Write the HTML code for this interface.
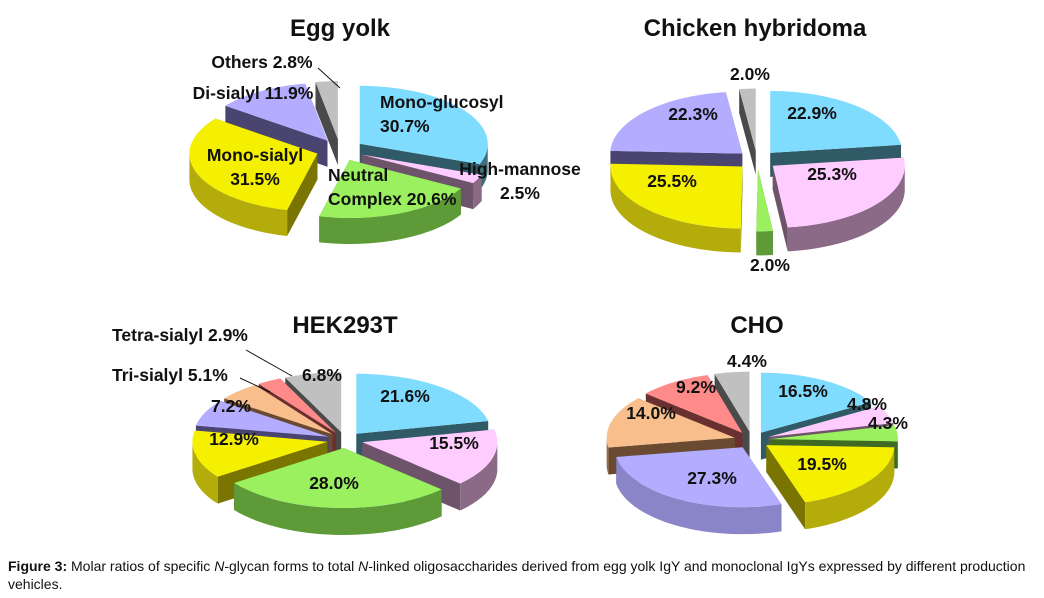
<!DOCTYPE html>
<html><head><meta charset="utf-8">
<style>
body{margin:0;background:#fff;width:1044px;height:598px;overflow:hidden;font-family:"Liberation Sans",Arial,sans-serif;}
svg{position:absolute;left:0;top:0}
.cap{position:absolute;left:8px;top:557px;width:1032px;font-size:14px;line-height:18px;color:#111}
</style></head>
<body>
<svg id="chart" width="1044" height="556" viewBox="0 0 1044 556"></svg>
<div class="cap"><b>Figure 3:</b> Molar ratios of specific <i>N</i>-glycan forms to total <i>N</i>-linked oligosaccharides derived from egg yolk IgY and monoclonal IgYs expressed by different production vehicles.</div>
<script>
// ---- data ----
const eggValues = [30.7, 2.5, 20.6, 31.5, 11.9, 2.8];
const eggColors = ['cyan','pink','green','yellow','lavender','gray'];
const eggLabels = [['Mono-glucosyl','30.7%'],['High-mannose','2.5%'],['Neutral','Complex 20.6%'],['Mono-sialyl','31.5%'],['Di-sialyl 11.9%'],['Others 2.8%']];
const chickValues = [22.9, 25.3, 2.0, 25.5, 22.3, 2.0];
const chickColors = ['cyan','pink','green','yellow','lavender','gray'];
const chickLabels = [['22.9%'],['25.3%'],['2.0%'],['25.5%'],['22.3%'],['2.0%']];
const hekValues = [21.6, 15.5, 28.0, 12.9, 7.2, 5.1, 2.9, 6.8];
const hekColors = ['cyan','pink','green','yellow','lavender','peach','salmon','gray'];
const hekLabels = [['21.6%'],['15.5%'],['28.0%'],['12.9%'],['7.2%'],['Tri-sialyl 5.1%'],['Tetra-sialyl 2.9%'],['6.8%']];
const choValues = [16.5, 4.8, 4.3, 19.5, 27.3, 14.0, 9.2, 4.4];
const choColors = ['cyan','pink','green','yellow','lavender','peach','salmon','gray'];
const choLabels = [['16.5%'],['4.8%'],['4.3%'],['19.5%'],['27.3%'],['14.0%'],['9.2%'],['4.4%']];

const PAL = {
 cyan:['#80dcff','#3d6f7c','#2f5a66'], pink:['#ffccff','#8a6a86','#6e546a'],
 green:['#9bf060','#5e9a38','#3e6a24'], yellow:['#f5ef00','#b4ac0a','#7a7400'],
 lavender:['#b4adff','#8a84c8','#4a4470'], gray:['#c0c0c0','#7a7a7a','#4a4a4a'],
 peach:['#f8bf8c','#9a6a44','#6a4a30'], salmon:['#ff8a8a','#9a4a4a','#6a3030']
};
const svg = document.getElementById('chart');
const NS='http://www.w3.org/2000/svg';
function mk(tag, attrs, parent){const e=document.createElementNS(NS,tag);for(const k in attrs)e.setAttribute(k,attrs[k]);(parent||svg).appendChild(e);return e;}

function pie(name, cfg, values, colors, labels){
  const g = mk('g',{});
  
  
  const total = values.reduce((a,b)=>a+b,0);
  const rad = d=>d*Math.PI/180;
  const P = (cx,cy,t)=>[cx+cfg.rx*Math.sin(rad(t)), cy-cfg.ry*Math.cos(rad(t))];
  let acc=0; const slices=[];
  values.forEach((v,i)=>{const a0=acc/total*360; acc+=v; const a1=acc/total*360; const m=(a0+a1)/2;
    const cx=cfg.cx+cfg.ex*Math.sin(rad(m)), cy=cfg.cy-cfg.ex*cfg.ry/cfg.rx*Math.cos(rad(m));
    slices.push({i,v,a0,a1,m,cx,cy,key:-Math.cos(rad(m))});});
  const order = slices.slice().sort((a,b)=>a.key-b.key);
  const D=cfg.d;
  order.forEach(s=>{
    const c=PAL[colors[s.i]];
    const sg=mk('g',{},g);
    
    
    [s.a0,s.a1].forEach(a=>{const p=P(s.cx,s.cy,a);
      mk('polygon',{points:`${s.cx},${s.cy} ${p[0]},${p[1]} ${p[0]},${p[1]+D} ${s.cx},${s.cy+D}`,fill:c[2]},sg);});
    const lo=Math.max(s.a0,90), hi=Math.min(s.a1,270);
    if(hi>lo){let pts=[];const n=30;
      for(let k=0;k<=n;k++){const p=P(s.cx,s.cy,lo+(hi-lo)*k/n);pts.push(p[0]+','+p[1]);}
      for(let k=n;k>=0;k--){const p=P(s.cx,s.cy,lo+(hi-lo)*k/n);pts.push(p[0]+','+(p[1]+D));}
      mk('polygon',{points:pts.join(' '),fill:c[1]},sg);}
    let pts=[s.cx+','+s.cy];const n=40;
    for(let k=0;k<=n;k++){const p=P(s.cx,s.cy,s.a0+(s.a1-s.a0)*k/n);pts.push(p[0]+','+p[1]);}
    mk('polygon',{points:pts.join(' '),fill:c[0]},sg);
  });
  slices.forEach(s=>{
    const pos=cfg.lab[s.i];
    const t=mk('text',{x:pos[0],y:pos[1],'font-size':cfg.fs||17.5,'font-weight':'bold','text-anchor':pos[2]||'middle',fill:'#111'},g);
    
    
    labels[s.i].forEach((ln,j)=>{const ts=mk('tspan',{x:pos[0],dy:j?24:0},t);ts.textContent=ln;});
  });
  const tt=mk('text',{x:cfg.tx,y:cfg.ty,'font-size':24,'font-weight':'bold','text-anchor':'middle',fill:'#111'},g);
  
  
  tt.textContent=cfg.title;
  (cfg.lines||[]).forEach(l=>{const ln=mk('line',{x1:l[0],y1:l[1],x2:l[2],y2:l[3],stroke:'#111','stroke-width':1},g);
    });
}

pie('egg-yolk-pie',{cx:340,cy:150,rx:128,ry:58,d:26,ex:24,title:'Egg yolk',tx:340,ty:36,
  lab:[[380,108,'start'],[520,175],[328,181,'start'],[255,161],[253,99],[262,68]],
  lines:[[318,68,340,88]]}, eggValues, eggColors, eggLabels);
pie('chicken-hybridoma-pie',{cx:757,cy:160,rx:132,ry:62,d:24,ex:20,title:'Chicken hybridoma',tx:755,ty:36,
  lab:[[812,119],[832,180],[770,271],[672,187],[693,120],[750,80]]}, chickValues, chickColors, chickLabels);
pie('hek293t-pie',{cx:345,cy:440,rx:135,ry:60,d:27,ex:18,title:'HEK293T',tx:345,ty:333,
  lab:[[405,402],[454,449],[334,489],[234,445],[231,412],[112,381,'start'],[112,341,'start'],[322,381]],
  lines:[[246,350,292,376],[240,378,270,392]]}, hekValues, hekColors, hekLabels);
pie('cho-pie',{cx:752,cy:440,rx:128,ry:60,d:27,ex:18,title:'CHO',tx:757,ty:333,
  lab:[[803,397],[867,410],[888,429],[822,470],[712,484],[651,419],[696,393],[747,367]]}, choValues, choColors, choLabels);
</script>
</body></html>
